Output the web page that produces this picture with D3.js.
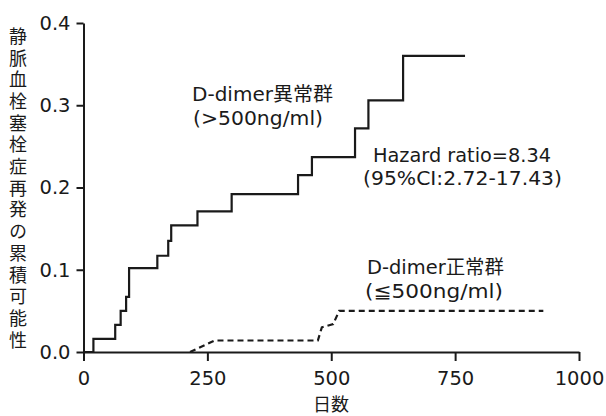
<!DOCTYPE html>
<html lang="ja">
<head>
<meta charset="utf-8">
<title>D-dimer 累積再発</title>
<script src="https://cdnjs.cloudflare.com/ajax/libs/d3/7.8.5/d3.min.js"></script>
<style>
  body { margin: 0; background: #fff; }
  svg { display: block; }
  .axis path, .axis line { stroke: #1a1a1a; stroke-width: 2; }
  .axis text { font-family: "DejaVu Sans", sans-serif; font-size: 19.5px; fill: #1a1a1a; }
  .note { font-family: "DejaVu Sans", "Noto Sans CJK JP", sans-serif; font-size: 19px; fill: #1a1a1a; }
</style>
</head>
<body>
<div id="plot"></div>
<script>
// D-dimer異常群 (solid step curve)
var abnormalDays = [0, 20, 64, 75, 86, 92, 149, 171, 177, 230, 299, 433, 461, 548, 575, 645, 770];
var abnormalRisk = [0, 0.016, 0.033, 0.050, 0.067, 0.102, 0.117, 0.135, 0.154, 0.171, 0.192, 0.215, 0.237, 0.272, 0.306, 0.360, 0.360];
// D-dimer正常群 (dashed curve, from where it leaves zero)
var normalDays = [215, 265, 473, 481, 504, 516, 928];
var normalRisk = [0, 0.014, 0.014, 0.030, 0.034, 0.050, 0.050];

var xTicks = [0, 250, 500, 750, 1000];
var yTicks = [0, 0.1, 0.2, 0.3, 0.4];
var yTitle = "静脈血栓塞栓症再発の累積可能性";
var xTitle = "日数";

var width = 606, height = 416;

var svg = d3.select("#plot").append("svg")
    .attr("width", width)
    .attr("height", height);

var x = d3.scaleLinear().domain([0, 1000]).range([83.5, 579]);
var y = d3.scaleLinear().domain([0, 0.4]).range([352, 23]);

// axes
svg.append("g")
    .attr("class", "axis")
    .attr("transform", "translate(0," + y(0) + ")")
    .call(d3.axisBottom(x).tickValues(xTicks).tickFormat(d3.format("d"))
        .tickSize(9).tickSizeOuter(0).tickPadding(10));

svg.append("g")
    .attr("class", "axis")
    .attr("transform", "translate(" + x(0) + ",0)")
    .call(d3.axisLeft(y).tickValues(yTicks).tickFormat(d3.format(".1f"))
        .tickSize(7).tickSizeOuter(0).tickPadding(6));

// curves
var abnormal = abnormalDays.map(function(d, i) { return [d, abnormalRisk[i]]; });
var normal = normalDays.map(function(d, i) { return [d, normalRisk[i]]; });

svg.append("path")
    .datum(abnormal)
    .attr("fill", "none")
    .attr("stroke", "#1a1a1a")
    .attr("stroke-width", 2.2)
    .attr("d", d3.line().x(function(d) { return x(d[0]); }).y(function(d) { return y(d[1]); }).curve(d3.curveStepAfter));

svg.append("path")
    .datum(normal)
    .attr("fill", "none")
    .attr("stroke", "#1a1a1a")
    .attr("stroke-width", 2.2)
    .attr("stroke-dasharray", "6,4")
    .attr("d", d3.line().x(function(d) { return x(d[0]); }).y(function(d) { return y(d[1]); }));

// annotations
var notes = [
    {t: "D-dimer異常群", x: 192, y: 101, w: 141},
    {t: "(>500ng/ml)", x: 193, y: 125, w: 130},
    {t: "Hazard ratio=8.34", x: 373, y: 162, w: 178},
    {t: "(95%CI:2.72-17.43)", x: 363, y: 185, w: 199},
    {t: "D-dimer正常群", x: 367, y: 274, w: 137},
    {t: "(≦500ng/ml)", x: 365, y: 298, w: 138}
];
svg.selectAll("text.note")
    .data(notes)
    .enter()
    .append("text")
    .attr("class", "note")
    .attr("x", function(d) { return d.x; })
    .attr("y", function(d) { return d.y; })
    .attr("textLength", function(d) { return d.w; })
    .attr("lengthAdjust", "spacingAndGlyphs")
    .text(function(d) { return d.t; });

// axis titles
svg.append("text")
    .attr("x", 18)
    .attr("y", 27)
    .attr("writing-mode", "vertical-rl")
    .attr("font-family", "Noto Sans CJK JP, sans-serif")
    .attr("font-size", 18)
    .attr("letter-spacing", 3.7)
    .attr("fill", "#1a1a1a")
    .text(yTitle);

svg.append("text")
    .attr("x", 331)
    .attr("y", 411)
    .attr("text-anchor", "middle")
    .attr("font-family", "Noto Sans CJK JP, sans-serif")
    .attr("font-size", 18)
    .attr("fill", "#1a1a1a")
    .text(xTitle);
</script>
</body>
</html>
